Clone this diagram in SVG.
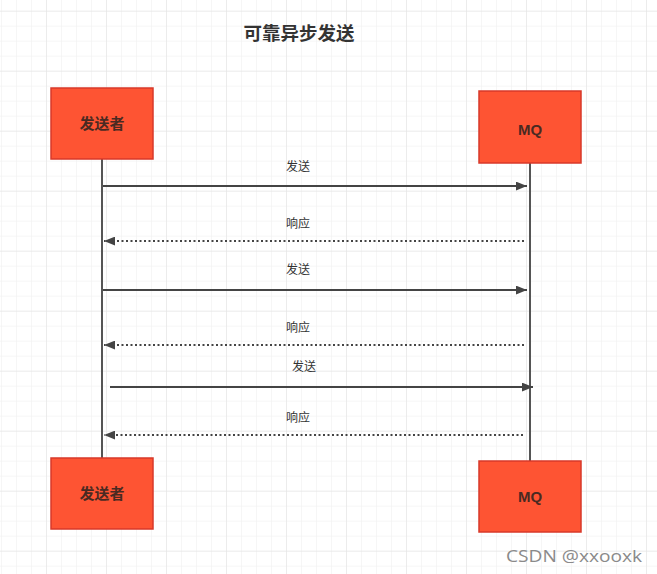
<svg xmlns="http://www.w3.org/2000/svg" width="657" height="574" viewBox="0 0 657 574">
<style>
.box{fill:#fe5433;stroke:#d8392a;stroke-width:1.5}
.bt{font-family:"Noto Sans CJK SC","Liberation Sans",sans-serif;font-size:15px;fill:#4a2a22;text-anchor:middle;font-weight:bold}
.mq{font-family:"Liberation Sans",Arial,sans-serif;font-size:15px;fill:#4a2a22;text-anchor:middle;font-weight:bold}
.life{stroke:#555;stroke-width:2;fill:none}
.msg{stroke:#444;stroke-width:2;fill:none}
.ret{stroke:#444;stroke-width:2;stroke-dasharray:2 2.5;fill:none}
.lbl{font-family:"Noto Sans CJK SC",sans-serif;font-size:12px;fill:#333;text-anchor:middle}
</style>
<defs>
<pattern id="g1" x="1" y="10.7" width="15" height="15" patternUnits="userSpaceOnUse">
<path d="M0 0H15M0 0V15" stroke="#eeeeee" stroke-width="1" fill="none"/>
</pattern>
<pattern id="g2" x="46" y="10.7" width="60" height="60" patternUnits="userSpaceOnUse">
<path d="M0 0H60M0 0V60" stroke="#e2e2e2" stroke-width="1" fill="none"/>
</pattern>
<marker id="ah" viewBox="0 0 10 8" refX="10" refY="4" markerWidth="11" markerHeight="9" markerUnits="userSpaceOnUse" orient="auto">
<path d="M0 0L10 4L0 8Z" fill="#444"/>
</marker>
</defs>
<rect width="657" height="574" fill="#ffffff"/>
<rect width="657" height="574" fill="url(#g1)"/>
<rect width="657" height="574" fill="url(#g2)"/>
<text x="299" y="40" font-family="Noto Sans CJK SC,sans-serif" font-size="18.5" font-weight="bold" fill="#333" text-anchor="middle">可靠异步发送</text>
<g id="connectors">
<line class="life" x1="102" y1="159" x2="102" y2="458"/>
<line class="life" x1="530" y1="163" x2="530" y2="461"/>
<line class="msg" x1="103" y1="186" x2="527" y2="186" marker-end="url(#ah)"/>
<line class="ret" x1="524" y1="241" x2="104" y2="241" marker-end="url(#ah)"/>
<line class="msg" x1="103" y1="290" x2="527" y2="290" marker-end="url(#ah)"/>
<line class="ret" x1="524" y1="345" x2="104" y2="345" marker-end="url(#ah)"/>
<line class="msg" x1="110" y1="387" x2="533" y2="387" marker-end="url(#ah)"/>
<line class="ret" x1="523" y1="435" x2="104" y2="435" marker-end="url(#ah)"/>
<text class="lbl" x="298" y="171">发送</text>
<text class="lbl" x="298" y="228">响应</text>
<text class="lbl" x="298" y="274">发送</text>
<text class="lbl" x="298" y="332">响应</text>
<text class="lbl" x="304" y="371">发送</text>
<text class="lbl" x="298" y="422">响应</text>
</g>
<g id="sender-top"><rect class="box" x="51" y="88" width="102" height="71"/><text class="bt" x="102" y="129">发送者</text></g>
<g id="mq-top"><rect class="box" x="479" y="91" width="102" height="72"/><text class="mq" x="530" y="135">MQ</text></g>
<g id="sender-bottom"><rect class="box" x="51" y="458" width="102" height="71"/><text class="bt" x="102" y="499">发送者</text></g>
<g id="mq-bottom"><rect class="box" x="479" y="461" width="102" height="71"/><text class="mq" x="530" y="502">MQ</text></g>
<text x="506" y="562" font-family="Open Sans,Liberation Sans,sans-serif" font-size="17" fill="#8a8a8a" textLength="136" lengthAdjust="spacingAndGlyphs">CSDN @xxooxk</text>
</svg>
